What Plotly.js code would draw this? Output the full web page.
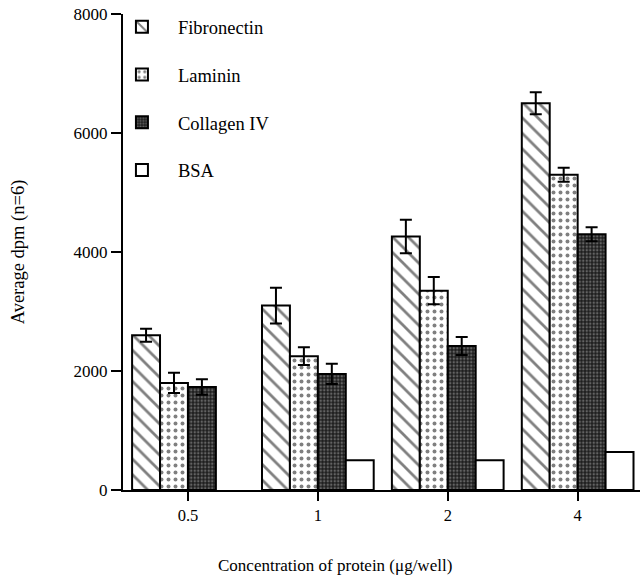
<!DOCTYPE html>
<html>
<head>
<meta charset="utf-8">
<script src="https://cdn.plot.ly/plotly-3.0.1.min.js"></script>
<style>html,body{margin:0;padding:0;background:#fff;}#chart{width:640px;height:578px;}</style>
</head>
<body>
<div id="chart"></div>
<script>
// Data
var categories = ["0.5", "1", "2", "4"];
var fibronectin = [2600, 3100, 4260, 6500];
var fibronectinErr = [110, 300, 280, 185];
var laminin = [1800, 2250, 3350, 5300];
var lamininErr = [170, 150, 230, 118];
var collagenIV = [1730, 1950, 2420, 4300];
var collagenIVErr = [130, 170, 150, 118];
var bsa = [null, 500, 500, 640];
var yTicks = [0, 2000, 4000, 6000, 8000];

var FONT = "Liberation Serif";

function errBar(arr) {
  return {type: "data", array: arr, symmetric: true, visible: true, color: "#000", thickness: 2, width: 6};
}

var traces = [
  {
    type: "bar", name: "Fibronectin", x: categories, y: fibronectin, legendgroup: "a",
    error_y: errBar(fibronectinErr),
    marker: {color: "#fff", line: {color: "#000", width: 2},
      pattern: {shape: "\\", fgcolor: "#000", size: 11, solidity: 0.25, fillmode: "overlay"}}
  },
  {
    type: "bar", name: "Laminin", x: categories, y: laminin, legendgroup: "b",
    error_y: errBar(lamininErr),
    marker: {color: "#fff", line: {color: "#000", width: 2},
      pattern: {shape: ".", fgcolor: "#000", size: 7, solidity: 0.25, fillmode: "overlay"}}
  },
  {
    type: "bar", name: "Collagen IV", x: categories, y: collagenIV, legendgroup: "c",
    error_y: errBar(collagenIVErr),
    marker: {color: "#1e1e1e", line: {color: "#000", width: 2},
      pattern: {shape: ".", fgcolor: "#a8a8a8", size: 3.5, solidity: 0.4, fillmode: "overlay"}}
  },
  {
    type: "bar", name: "BSA", x: categories, y: bsa, legendgroup: "d",
    marker: {color: "#fff", line: {color: "#000", width: 2}}
  }
];

var layout = {
  width: 640, height: 578,
  margin: {l: 123, r: 0, t: 14, b: 88, pad: 0},
  paper_bgcolor: "#fff", plot_bgcolor: "#fff",
  barmode: "group", bargap: 0.14, bargroupgap: 0,
  font: {family: FONT, color: "#000", size: 16.5},
  showlegend: true,
  legend: {
    x: -0.033, y: 1.012, xanchor: "left", yanchor: "top",
    font: {family: FONT, size: 18.5, color: "#000"},
    traceorder: "grouped", tracegroupgap: 20.7, itemwidth: 62,
    bgcolor: "rgba(0,0,0,0)", borderwidth: 0
  },
  xaxis: {
    type: "category", range: [-0.5, 3.48],
    showline: true, linecolor: "#000", linewidth: 2,
    ticks: "outside", ticklen: 9, tickwidth: 2, tickcolor: "#000",
    tickfont: {family: FONT, size: 16.5},
    showgrid: false, zeroline: false, fixedrange: true
  },
  yaxis: {
    range: [0, 8000], tickvals: yTicks, ticktext: yTicks.map(String),
    showline: true, linecolor: "#000", linewidth: 2,
    ticks: "outside", ticklen: 10, tickwidth: 2, tickcolor: "#000",
    tickfont: {family: FONT, size: 17},
    showgrid: false, zeroline: false,
    title: {text: "Average dpm (n=6)", font: {family: FONT, size: 18.5}, standoff: 44}
  },
  annotations: [{
    text: "Concentration of protein (\u03bcg/well)",
    xref: "paper", yref: "paper", x: 0.41, y: -0.158,
    xanchor: "center", yanchor: "middle", showarrow: false,
    font: {family: FONT, size: 17, color: "#000"}
  }]
};

Plotly.newPlot("chart", traces, layout, {staticPlot: true, displayModeBar: false});
</script>
</body>
</html>
